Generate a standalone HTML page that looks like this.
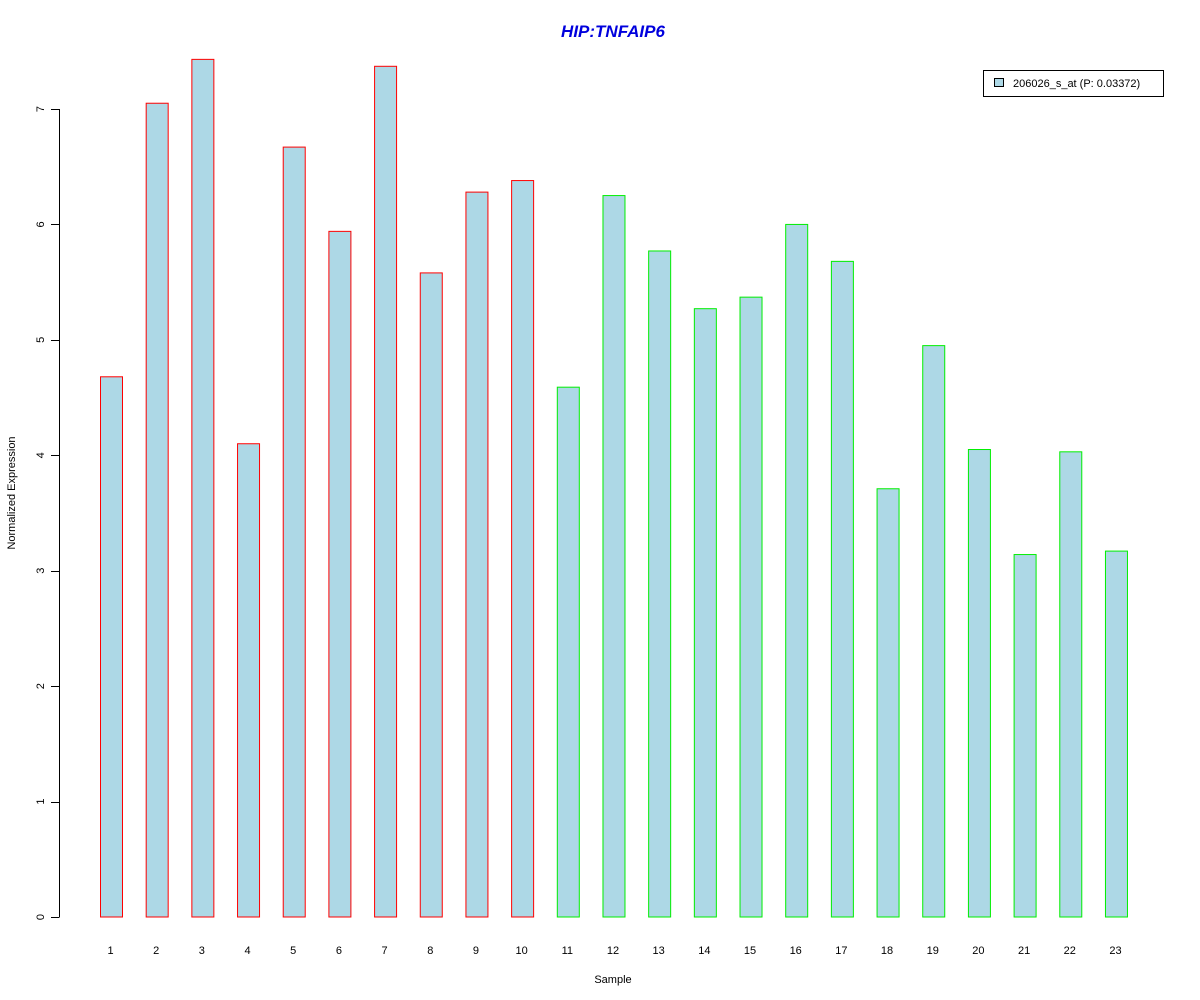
<!DOCTYPE html>
<html><head><meta charset="utf-8"><style>body{margin:0;background:#fff}svg{display:block}</style></head>
<body>
<svg width="1200" height="1000" xmlns="http://www.w3.org/2000/svg" font-family="Liberation Sans, Arial, sans-serif">
<rect width="1200" height="1000" fill="#fff"/>
<text x="613" y="37" text-anchor="middle" font-size="17" font-weight="bold" font-style="italic" fill="#0000dd">HIP:TNFAIP6</text>
<g id="yaxis"></g>
<g id="bars"></g>
<g id="xlabels"></g>
<text x="613" y="983" text-anchor="middle" font-size="11">Sample</text>
<text transform="translate(15,493) rotate(-90)" text-anchor="middle" font-size="11">Normalized Expression</text>
<g>
<rect x="983.5" y="70.5" width="180" height="26" fill="#fff" stroke="#000"/>
<rect x="994.5" y="78.5" width="9" height="8" fill="#add8e6" stroke="#000"/>
<text x="1013" y="87" font-size="11">206026_s_at (P: 0.03372)</text>
</g>
<script>
const categories=["1","2","3","4","5","6","7","8","9","10","11","12","13","14","15","16","17","18","19","20","21","22","23"];
const values=[4.68,7.05,7.43,4.10,6.67,5.94,7.37,5.58,6.28,6.38,4.59,6.25,5.77,5.27,5.37,6.00,5.68,3.71,4.95,4.05,3.14,4.03,3.17];
const groups=["a","a","a","a","a","a","a","a","a","a","b","b","b","b","b","b","b","b","b","b","b","b","b"];
const yTicks=[0,1,2,3,4,5,6,7];
const NS="http://www.w3.org/2000/svg";
const y=v=>917-v*(808/7);
const x=i=>100.5+i*45.68;
function mk(t,a,p){const e=document.createElementNS(NS,t);for(const k in a)e.setAttribute(k,a[k]);p.appendChild(e);return e;}
const ya=document.getElementById('yaxis');
const al=mk('line',{x1:59.5,x2:59.5,y1:y(7),y2:y(0),stroke:'#000'},ya);


yTicks.forEach(t=>{
 const l=mk('line',{x1:51,x2:59.5,y1:Math.round(y(t))+0.5,y2:Math.round(y(t))+0.5,stroke:'#000'},ya);
 
 
 const tx=mk('text',{transform:`translate(44,${y(t)}) rotate(-90)`,'text-anchor':'middle','font-size':11},ya);
 tx.textContent=t;
 
 
});
const bg=document.getElementById('bars'),xl=document.getElementById('xlabels');
values.forEach((v,i)=>{
 const r=mk('rect',{x:x(i),y:y(v),width:22,height:y(0)-y(v),fill:'#add8e6',stroke:groups[i]==='a'?'#ff0000':'#00ee00'},bg);
 
 
 const t=mk('text',{x:x(i)+10,y:954,'text-anchor':'middle','font-size':11},xl);
 t.textContent=categories[i];
 
 
});
</script>
</svg>
</body></html>
